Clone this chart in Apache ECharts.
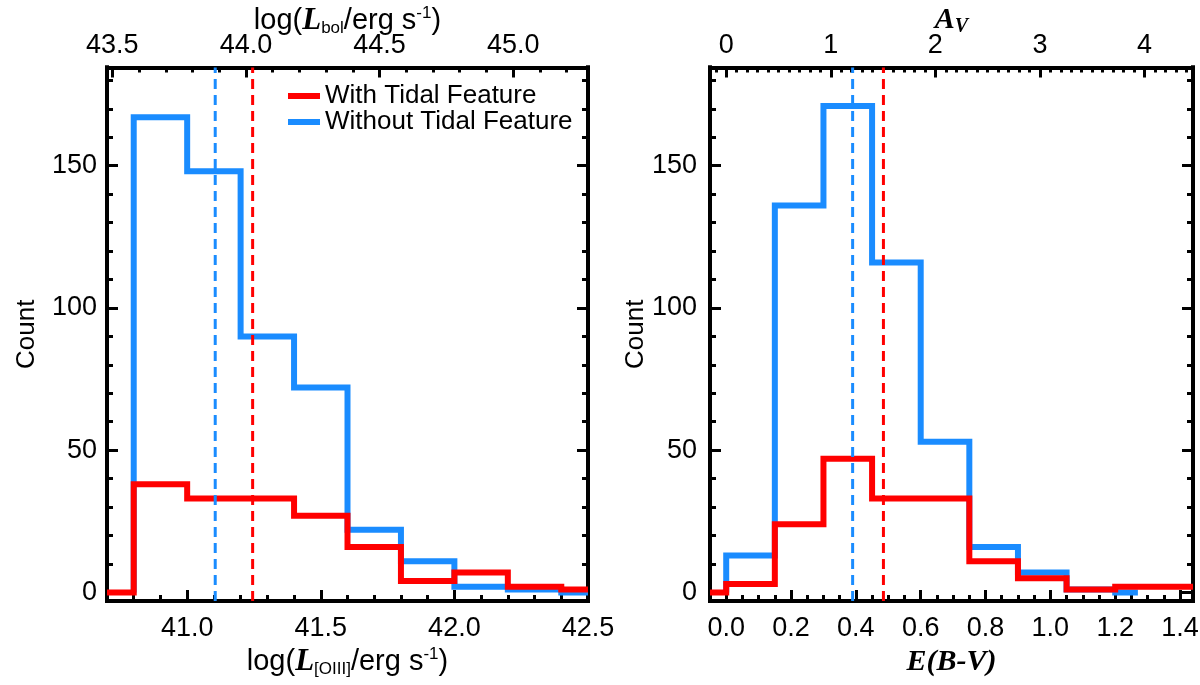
<!DOCTYPE html>
<html>
<head>
<meta charset="utf-8">
<title>Tidal feature histograms</title>
<script src="https://cdn.jsdelivr.net/npm/echarts@6/dist/echarts.min.js"></script>
<style>
  html, body { margin: 0; padding: 0; background: #fff; }
  #chart { width: 1200px; height: 685px; }
</style>
</head>
<body>
<div id="chart"></div>
<script>
// Histogram bin edges and counts
const oiiiEdgesTidal = [40.7, 40.8, 41.0, 41.2, 41.4, 41.6, 41.8, 42.0, 42.2, 42.4, 42.5]
const oiiiCountsTidal = [0, 38, 33, 33, 27, 16, 4, 7, 2, 1]
const oiiiEdgesNoTidal = [40.8, 41.0, 41.2, 41.4, 41.6, 41.8, 42.0, 42.2, 42.4, 42.5]
const oiiiCountsNoTidal = [167, 148, 90, 72, 22, 11, 2, 1, 0]

const ebvEdgesTidal = [-0.05, 0.0, 0.15, 0.30, 0.45, 0.60, 0.75, 0.90, 1.05, 1.20, 1.44]
const ebvCountsTidal = [0, 3, 24, 47, 33, 33, 11, 5, 1, 2]
const ebvEdgesNoTidal = [0.0, 0.15, 0.30, 0.45, 0.60, 0.75, 0.90, 1.05, 1.20, 1.27]
const ebvCountsNoTidal = [13, 136, 171, 116, 53, 16, 7, 1, 0]

// Medians (dashed lines)
const oiiiMedianTidal = 41.245
const oiiiMedianNoTidal = 41.105
const ebvMedianTidal = 0.485
const ebvMedianNoTidal = 0.39

// Tick labels
const oiiiTicks = [41.0, 41.5, 42.0, 42.5]
const lbolTicks = [43.5, 44.0, 44.5, 45.0]
const ebvTicks = [0.0, 0.2, 0.4, 0.6, 0.8, 1.0, 1.2, 1.4]
const avTicks = [0, 1, 2, 3, 4]
const countTicks = [0, 50, 100, 150]

const RED = '#ff0000'
const BLUE = '#1a8cff'
const BLACK = '#000'
const SANS = '"Liberation Sans", Arial, Helvetica, sans-serif'
const SERIF = '"Liberation Serif", "Times New Roman", serif'

const yMin = -3
const yMax = 184.5

const range = (start, stop, step) => {
  const out = []
  for (let v = start; v <= stop + 1e-9; v += step) out.push(Math.round(v * 1000) / 1000)
  return out
}

// turn edges + counts into points for a step line
const stepPoints = (edges, counts) => {
  const pts = [[edges[0], 0]]
  counts.forEach((c, i) => pts.push([edges[i], c]))
  pts.push([edges[edges.length - 1], counts[counts.length - 1]])
  return pts
}

const nameRich = {
  n: { fontSize: 29, fontFamily: SANS, color: BLACK, lineHeight: 32 },
  L: { fontSize: 31, fontFamily: SERIF, fontWeight: 'bold', fontStyle: 'italic', color: BLACK, lineHeight: 32 },
  sub: { fontSize: 17, fontFamily: SANS, color: BLACK, lineHeight: 16, verticalAlign: 'bottom' },
  sup: { fontSize: 17, fontFamily: SANS, color: BLACK, lineHeight: 16, verticalAlign: 'top' },
  A: { fontSize: 30, fontFamily: SERIF, fontWeight: 'bold', fontStyle: 'italic', color: BLACK, lineHeight: 32 },
  V: { fontSize: 20, fontFamily: SERIF, fontWeight: 'bold', fontStyle: 'italic', color: BLACK, lineHeight: 19, verticalAlign: 'bottom' },
  E: { fontSize: 30, fontFamily: SERIF, fontWeight: 'bold', fontStyle: 'italic', color: BLACK, lineHeight: 32 },
}

const makeAxis = (o) => ({
  type: 'value',
  gridIndex: o.grid,
  position: o.position,
  min: o.min,
  max: o.max,
  name: o.name || '',
  nameLocation: 'middle',
  nameGap: o.nameGap || 0,
  nameRotate: o.nameRotate,
  nameMoveOverlap: false,
  nameTextStyle: { fontSize: 26, fontFamily: SANS, color: BLACK, rich: nameRich },
  axisLine: { show: true, onZero: false, lineStyle: { color: BLACK, width: 4, cap: 'square' } },
  axisTick: {
    show: true,
    inside: true,
    length: o.tickLen,
    customValues: o.ticks,
    lineStyle: { color: BLACK, width: 3 },
  },
  axisLabel: o.labels
    ? {
        show: true,
        customValues: o.labels,
        formatter: o.fmt,
        margin: o.margin,
        color: BLACK,
        fontSize: 27,
        fontFamily: SANS,
      }
    : { show: false },
  splitLine: { show: false },
})

const fmt1 = (v) => v.toFixed(1)
const fmt0 = (v) => String(Math.round(v))

const xAxes = [
  // left panel
  makeAxis({ grid: 0, position: 'bottom', min: 40.7, max: 42.5, ticks: oiiiTicks, tickLen: 11, labels: oiiiTicks, fmt: fmt1, margin: 14,
    name: '{n|log(}{L|L}{sub|[OIII]}{n|/erg s}{sup|-1}{n|)}', nameGap: 45 }),
  makeAxis({ grid: 0, position: 'bottom', min: 40.7, max: 42.5, ticks: range(40.7, 42.5, 0.1), tickLen: 6 }),
  makeAxis({ grid: 0, position: 'top', min: 43.48, max: 45.28, ticks: lbolTicks, tickLen: 10, labels: lbolTicks, fmt: fmt1, margin: 8,
    name: '{n|log(}{L|L}{sub|bol}{n|/erg s}{sup|-1}{n|)}', nameGap: 31 }),
  makeAxis({ grid: 0, position: 'top', min: 43.48, max: 45.28, ticks: range(43.5, 45.2, 0.1), tickLen: 5 }),
  // right panel
  makeAxis({ grid: 1, position: 'bottom', min: -0.05, max: 1.44, ticks: ebvTicks, tickLen: 11, labels: ebvTicks, fmt: fmt1, margin: 14,
    name: '{E|E(B-V)}', nameGap: 45 }),
  makeAxis({ grid: 1, position: 'bottom', min: -0.05, max: 1.44, ticks: range(-0.05, 1.4, 0.05), tickLen: 6 }),
  makeAxis({ grid: 1, position: 'top', min: -0.155, max: 4.464, ticks: avTicks, tickLen: 10, labels: avTicks, fmt: fmt0, margin: 8,
    name: '{A|A}{V|V}', nameGap: 31 }),
  makeAxis({ grid: 1, position: 'top', min: -0.155, max: 4.464, ticks: range(-0.1, 4.4, 0.1), tickLen: 5 }),
]

const yAxes = []
;[0, 1].forEach((g) => {
  yAxes.push(makeAxis({ grid: g, position: 'left', min: yMin, max: yMax, ticks: countTicks, tickLen: 11, labels: countTicks, fmt: fmt0,
    margin: g === 0 ? 10 : 13, name: 'Count', nameGap: g === 0 ? 67 : 61, nameRotate: 90 }))
  yAxes.push(makeAxis({ grid: g, position: 'left', min: yMin, max: yMax, ticks: range(0, 180, 10), tickLen: 6 }))
  yAxes.push(makeAxis({ grid: g, position: 'right', min: yMin, max: yMax, ticks: countTicks, tickLen: 11 }))
  yAxes.push(makeAxis({ grid: g, position: 'right', min: yMin, max: yMax, ticks: range(0, 180, 10), tickLen: 6 }))
})

const histSeries = (name, color, pts, xi, yi) => ({
  name,
  type: 'line',
  xAxisIndex: xi,
  yAxisIndex: yi,
  step: 'end',
  data: pts,
  symbol: 'none',
  color,
  lineStyle: { color, width: 6, join: 'miter', cap: 'butt' },
})

const medianSeries = (color, x, xi, yi) => ({
  type: 'line',
  xAxisIndex: xi,
  yAxisIndex: yi,
  data: [[x, yMin], [x, yMax]],
  symbol: 'none',
  color,
  lineStyle: { color, width: 3, type: [10, 6] },
})

const option = {
  animation: false,
  backgroundColor: '#fff',
  grid: [
    { left: 107, top: 67.5, width: 481, height: 533.5, outerBoundsMode: 'none' },
    { left: 710, top: 67.5, width: 483, height: 533.5, outerBoundsMode: 'none' },
  ],
  legend: {
    data: ['With Tidal Feature', 'Without Tidal Feature'],
    orient: 'vertical',
    left: 288,
    top: 83,
    padding: 0,
    itemGap: 0,
    itemWidth: 32,
    itemHeight: 6,
    icon: 'rect',
    selectedMode: false,
    textStyle: { fontSize: 26, lineHeight: 21, color: BLACK, fontFamily: SANS },
  },
  xAxis: xAxes,
  yAxis: yAxes,
  series: [
    histSeries('Without Tidal Feature', BLUE, stepPoints(oiiiEdgesNoTidal, oiiiCountsNoTidal), 0, 0),
    histSeries('With Tidal Feature', RED, stepPoints(oiiiEdgesTidal, oiiiCountsTidal), 0, 0),
    medianSeries(BLUE, oiiiMedianNoTidal, 0, 0),
    medianSeries(RED, oiiiMedianTidal, 0, 0),
    histSeries('Without Tidal Feature', BLUE, stepPoints(ebvEdgesNoTidal, ebvCountsNoTidal), 4, 4),
    histSeries('With Tidal Feature', RED, stepPoints(ebvEdgesTidal, ebvCountsTidal), 4, 4),
    medianSeries(BLUE, ebvMedianNoTidal, 4, 4),
    medianSeries(RED, ebvMedianTidal, 4, 4),
  ],
}

const chart = echarts.init(document.getElementById('chart'))
chart.setOption(option)
</script>
</body>
</html>
